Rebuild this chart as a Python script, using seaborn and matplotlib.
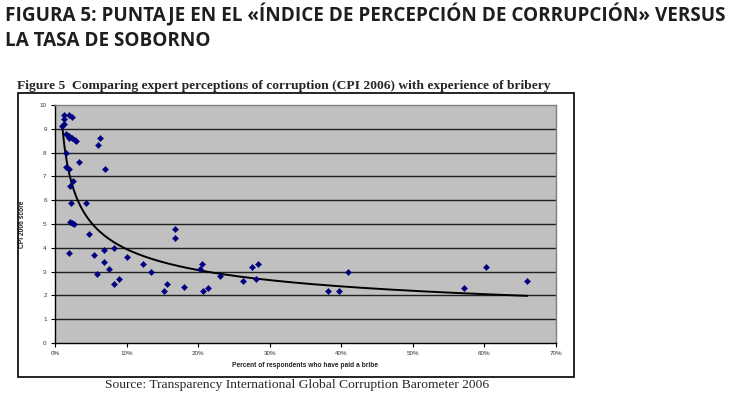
import numpy as np
import pandas as pd
import matplotlib
matplotlib.use('Agg')
import matplotlib.pyplot as plt
from matplotlib.ticker import PercentFormatter
from matplotlib.patches import Rectangle
import seaborn as sns

# percent of respondents who paid a bribe (fraction) vs CPI 2006 score
bribe = [0.010, 0.012, 0.012, 0.013, 0.019, 0.024, 0.016, 0.020, 0.020, 0.024,
         0.028, 0.029, 0.016, 0.033, 0.060, 0.063, 0.070, 0.015, 0.020, 0.025,
         0.021, 0.022, 0.043, 0.021, 0.024, 0.0265, 0.019, 0.048, 0.055, 0.069,
         0.083, 0.059, 0.068, 0.076, 0.100, 0.083, 0.089, 0.123, 0.134, 0.167,
         0.167, 0.152, 0.157, 0.180, 0.203, 0.205, 0.207, 0.214, 0.230, 0.263,
         0.275, 0.284, 0.281, 0.382, 0.397, 0.410, 0.571, 0.602, 0.660]
cpi = [9.1, 9.2, 9.4, 9.6, 9.6, 9.5, 8.8, 8.7, 8.6, 8.6,
       8.55, 8.5, 8.0, 7.6, 8.3, 8.6, 7.3, 7.4, 7.3, 6.8,
       6.6, 5.9, 5.9, 5.1, 5.05, 5.0, 3.8, 4.6, 3.7, 3.9,
       4.0, 2.9, 3.4, 3.1, 3.6, 2.5, 2.7, 3.3, 3.0, 4.4,
       4.8, 2.2, 2.5, 2.35, 3.1, 3.3, 2.2, 2.3, 2.8, 2.6,
       3.2, 3.3, 2.7, 2.2, 2.2, 3.0, 2.3, 3.2, 2.6]

df = pd.DataFrame({'bribe': bribe, 'cpi': cpi})

# power trendline, like the Excel one
b, a = np.polyfit(np.log(df['bribe']), np.log(df['cpi']), 1)
xs = np.linspace(df['bribe'].min(), df['bribe'].max(), 200)
trend = pd.DataFrame({'bribe': xs, 'cpi': np.exp(a) * xs ** b})

sns.set_style('white')
plt.rcParams['font.family'] = ['Liberation Sans', 'DejaVu Sans']

fig = plt.figure(figsize=(7.37, 3.97), dpi=100)
fig.patch.set_facecolor('white')

# heading
fig.text(0.007, 1 - 15 / 397, 'FIGURA 5: PUNTAJE EN EL «ÍNDICE DE PERCEPCIÓN DE CORRUPCIÓN» VERSUS',
         fontsize=13.6, fontweight='bold', family=['Open Sans', 'DejaVu Sans'],
         color='#1e1e1e', va='center', ha='left')
fig.text(0.007, 1 - 41 / 397, 'LA TASA DE SOBORNO',
         fontsize=13.6, fontweight='bold', family=['Open Sans', 'DejaVu Sans'],
         color='#1e1e1e', va='center', ha='left')

# boxed figure
fig.patches.append(Rectangle((18 / 737, 1 - 377 / 397), 556 / 737, 284 / 397,
                             transform=fig.transFigure, fill=False,
                             edgecolor='black', lw=1.2))
fig.text(17 / 737, 1 - 86 / 397,
         'Figure 5  Comparing expert perceptions of corruption (CPI 2006) with experience of bribery',
         fontsize=9.7, fontweight='bold', family=['Liberation Serif'], va='center', ha='left')
fig.text(297 / 737, 1 - 385 / 397,
         'Source: Transparency International Global Corruption Barometer 2006',
         fontsize=9.7, family=['Liberation Serif'], va='center', ha='center')

ax = fig.add_axes([55 / 737, 1 - 343 / 397, 501 / 737, 238 / 397])
ax.set_facecolor('#c0c0c0')

sns.lineplot(data=trend, x='bribe', y='cpi', ax=ax, color='black', lw=1.4, zorder=3)
sns.scatterplot(data=df, x='bribe', y='cpi', ax=ax, marker='D', s=10,
                color='#000080', edgecolor='#000080', linewidth=0.3, zorder=4)

ax.set_xlim(0, 0.7)
ax.set_ylim(0, 10)
ax.set_yticks(range(0, 11))
ax.set_xticks(np.arange(0, 0.71, 0.1))
ax.xaxis.set_major_formatter(PercentFormatter(1, decimals=0))
for yv in range(1, 10):
    ax.axhline(yv, color='#202020', lw=1.0, zorder=1)

for side in ['top', 'right']:
    ax.spines[side].set_color('#808080')
    ax.spines[side].set_linewidth(1.0)
for side in ['left', 'bottom']:
    ax.spines[side].set_color('black')
    ax.spines[side].set_linewidth(1.0)

ax.tick_params(axis='both', which='major', length=3, width=0.8, color='black',
               labelsize=4.5, labelcolor='#333333', direction='out', pad=3)
ax.tick_params(left=True, bottom=True)
ax.set_xlabel('Percent of respondents who have paid a bribe', fontsize=4.8,
              fontweight='bold', color='#222222', labelpad=4)
ax.set_ylabel('CPI 2006 score', fontsize=4.8, fontweight='bold', color='#222222', labelpad=10)

fig.savefig('out.png', dpi=100)
